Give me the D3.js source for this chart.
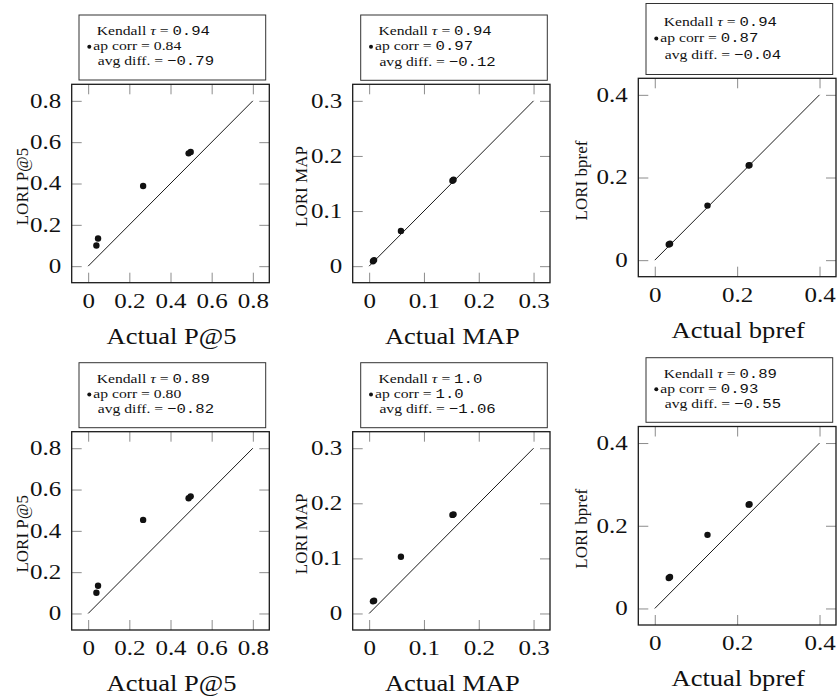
<!DOCTYPE html>
<html>
<head>
<meta charset="utf-8">
<script src="https://cdn.jsdelivr.net/npm/d3@7"></script>
<style>
  html, body { margin: 0; padding: 0; background: #fff; }
  svg { display: block; }
  svg text { font-family: "Liberation Serif", "Times New Roman", serif; }
  svg text .mono, svg text.mono { font-family: "Liberation Mono", "DejaVu Sans Mono", monospace; }
</style>
</head>
<body>
<svg id="chart" width="839" height="696"></svg>
<script>
// ---- data -------------------------------------------------------------
// Actual metric values per system (x) and LORI estimates (y)
const actualP5      = [0.040, 0.048, 0.267, 0.488, 0.498];
const loriP5Top     = [0.100, 0.134, 0.388, 0.546, 0.553];
const loriP5Bottom  = [0.100, 0.134, 0.453, 0.558, 0.567];

const actualMAP     = [0.007, 0.009, 0.058, 0.152, 0.154];
const loriMAPTop    = [0.009, 0.011, 0.064, 0.155, 0.157];
const loriMAPBottom = [0.022, 0.023, 0.103, 0.179, 0.180];

const actualBpref     = [0.034, 0.037, 0.128, 0.228, 0.230];
const loriBprefTop    = [0.038, 0.040, 0.132, 0.229, 0.230];
const loriBprefBottom = [0.0735, 0.076, 0.178, 0.251, 0.252];

// Axis ticks
const p5Ticks        = [0, 0.2, 0.4, 0.6, 0.8];
const p5TickLabels   = ["0", "0.2", "0.4", "0.6", "0.8"];
const mapTicks       = [0, 0.1, 0.2, 0.3];
const mapTickLabels  = ["0", "0.1", "0.2", "0.3"];
const bprefTicks     = [0, 0.2, 0.4];
const bprefTickLabels = ["0", "0.2", "0.4"];

// Axis titles
const xTitles = ["Actual P@5", "Actual MAP", "Actual bpref"];
const yTitles = ["LORI P@5", "LORI MAP", "LORI bpref"];

// Legend statistics, panel order: top row left→right, then bottom row
const kendallTau = ["0.94", "0.94", "0.94", "0.89", "1.0", "0.89"];
const apCorr     = ["0.84", "0.97", "0.87", "0.80", "1.0", "0.93"];
const avgDiff    = ["\u22120.79", "\u22120.12", "\u22120.04", "\u22120.82", "\u22121.06", "\u22120.55"];

// ---- layout -----------------------------------------------------------
const panels = [
  { actual: actualP5,    lori: loriP5Top,       max: 0.8, ticks: p5Ticks,    labels: p5TickLabels,    kind: 0,
    box: [71.7, 84.3, 269.3, 282.7],  leg: [79, 15, 265.7, 80],        yOff: 44, apMono: false },
  { actual: actualMAP,   lori: loriMAPTop,      max: 0.3, ticks: mapTicks,   labels: mapTickLabels,   kind: 1,
    box: [352.7, 84.3, 550, 282.7],   leg: [360.7, 15, 547.3, 80.3],   yOff: 46, apMono: true },
  { actual: actualBpref, lori: loriBprefTop,    max: 0.4, ticks: bprefTicks, labels: bprefTickLabels, kind: 2,
    box: [638.3, 78.3, 836, 276.7],   leg: [646, 3.5, 832.7, 74.5],    yOff: 51, apMono: true },
  { actual: actualP5,    lori: loriP5Bottom,    max: 0.8, ticks: p5Ticks,    labels: p5TickLabels,    kind: 0,
    box: [71.7, 431.7, 269.3, 630],   leg: [79, 362.7, 265.7, 427.7],  yOff: 44, apMono: false },
  { actual: actualMAP,   lori: loriMAPBottom,   max: 0.3, ticks: mapTicks,   labels: mapTickLabels,   kind: 1,
    box: [352.7, 431.7, 550, 630],    leg: [360.7, 362.7, 547.3, 427.7], yOff: 46, apMono: true },
  { actual: actualBpref, lori: loriBprefBottom, max: 0.4, ticks: bprefTicks, labels: bprefTickLabels, kind: 2,
    box: [638.3, 426.5, 836, 625],    leg: [646, 357.7, 832.7, 422.3], yOff: 51, apMono: true }
];

const svg = d3.select("#chart");

const TICK_LEN = 10;
const TICK_SX = 1.25;   // horizontal stretch of tick numerals
const TITLE_SX = 1.13;  // horizontal stretch of axis titles
const LEG_SX = 1.16;    // horizontal stretch of legend text

panels.forEach((p, i) => {
  const [x0, y0, x1, y1] = p.box;
  const g = svg.append("g");

  // pgfplots-style enlarged limits: 10% on each side
  const x = d3.scaleLinear().domain([-0.1 * p.max, 1.1 * p.max]).range([x0, x1]);
  const y = d3.scaleLinear().domain([-0.1 * p.max, 1.1 * p.max]).range([y1, y0]);

  const fmt = d => p.labels[p.ticks.indexOf(d)];

  // bottom axis with labels, inward ticks
  const gb = g.append("g").attr("transform", `translate(0,${y1})`)
    .call(d3.axisBottom(x).tickValues(p.ticks).tickFormat(fmt)
      .tickSizeInner(-TICK_LEN).tickSizeOuter(0).tickPadding(10.8));
  // left axis with labels
  const gl = g.append("g").attr("transform", `translate(${x0},0)`)
    .call(d3.axisLeft(y).tickValues(p.ticks).tickFormat(fmt)
      .tickSizeInner(-TICK_LEN).tickSizeOuter(0).tickPadding(10.5));
  // mirrored ticks on top and right
  const gt = g.append("g").attr("transform", `translate(0,${y0})`)
    .call(d3.axisTop(x).tickValues(p.ticks).tickFormat("")
      .tickSizeInner(-TICK_LEN).tickSizeOuter(0));
  const gr = g.append("g").attr("transform", `translate(${x1},0)`)
    .call(d3.axisRight(y).tickValues(p.ticks).tickFormat("")
      .tickSizeInner(-TICK_LEN).tickSizeOuter(0));

  [gb, gl, gt, gr].forEach(a => {
    a.attr("font-family", null);
    a.select(".domain").remove();
    a.selectAll(".tick line").attr("stroke", "#8c8c8c").attr("stroke-width", 1);
  });

  gb.selectAll(".tick text")
    .style("font-size", "20px").attr("fill", "#111")
    .attr("transform", `scale(${TICK_SX},1)`);
  gl.selectAll(".tick text")
    .style("font-size", "20px").attr("fill", "#111")
    .attr("x", -10.5 / TICK_SX)
    .attr("transform", `scale(${TICK_SX},1)`);

  // frame
  g.append("rect")
    .attr("x", x0).attr("y", y0)
    .attr("width", x1 - x0).attr("height", y1 - y0)
    .attr("fill", "none").attr("stroke", "#1a1a1a").attr("stroke-width", 1.3);

  // identity reference line
  const diag = [[0, 0], [p.max, p.max]];
  g.append("path")
    .datum(diag)
    .attr("d", d3.line().x(d => x(d[0])).y(d => y(d[1])))
    .attr("fill", "none").attr("stroke", "#1a1a1a").attr("stroke-width", 1);

  // systems
  g.selectAll("circle.pt")
    .data(p.actual.map((a, k) => ({ a, l: p.lori[k] })))
    .join("circle")
    .attr("class", "pt")
    .attr("cx", d => x(d.a))
    .attr("cy", d => y(d.l))
    .attr("r", 3.2)
    .attr("fill", "#111");

  // axis titles
  g.append("text")
    .attr("transform", `translate(${(x0 + x1) / 2 + 1},${y1 + 61}) scale(${TITLE_SX},1)`)
    .attr("text-anchor", "middle")
    .style("font-size", "23.5px").attr("fill", "#111")
    .text(xTitles[p.kind]);

  g.append("text")
    .attr("transform", `translate(${x0 - p.yOff},${(y0 + y1) / 2 + 3}) rotate(-90)`)
    .attr("text-anchor", "middle")
    .style("font-size", "17px").attr("fill", "#111")
    .text(yTitles[p.kind]);

  // legend box
  const [lx0, ly0, lx1, ly1] = p.leg;
  const lh = ly1 - ly0;
  g.append("rect")
    .attr("x", lx0).attr("y", ly0)
    .attr("width", lx1 - lx0).attr("height", lh)
    .attr("fill", "#fff").attr("stroke", "#333").attr("stroke-width", 1);

  const row = k => ly0 + lh * (0.31 + 0.233 * k);

  const line = (tx, ty) => g.append("text")
    .attr("transform", `translate(${tx},${ty}) scale(${LEG_SX},1)`)
    .style("font-size", "13.5px").attr("fill", "#111");

  const l1 = line(lx0 + 17.7, row(0));
  l1.append("tspan").text("Kendall ");
  l1.append("tspan").style("font-style", "italic").text("\u03C4");
  l1.append("tspan").text(" = ");
  l1.append("tspan").attr("class", "mono").text(kendallTau[i]);

  g.append("circle")
    .attr("cx", lx0 + 10.3).attr("cy", row(1) - 3.6)
    .attr("r", 2).attr("fill", "#111");

  const l2 = line(lx0 + 14.3, row(1));
  l2.append("tspan").text("ap corr = ");
  l2.append("tspan").attr("class", p.apMono ? "mono" : null).text(apCorr[i]);

  const l3 = line(lx0 + 18.7, row(2));
  l3.append("tspan").text("avg diff. = ");
  l3.append("tspan").attr("class", "mono").text(avgDiff[i]);
});
</script>
</body>
</html>
